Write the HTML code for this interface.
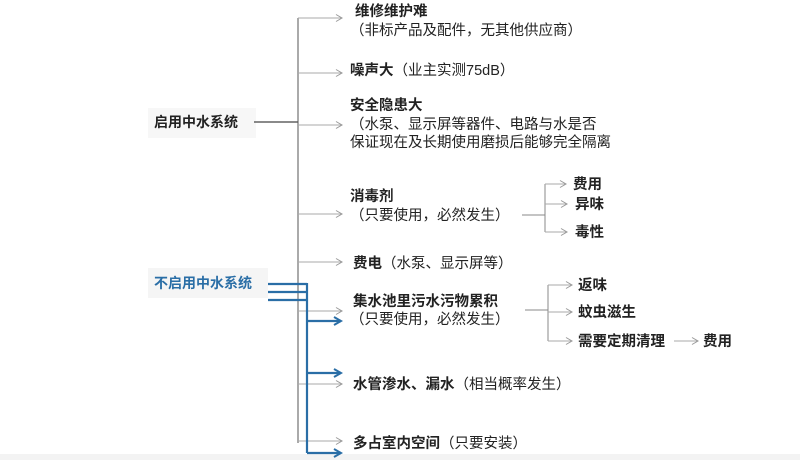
<!DOCTYPE html>
<html><head><meta charset="utf-8"><style>
html,body{margin:0;padding:0;background:#fff;}
svg{display:block;}
text{font-family:"Liberation Sans","Noto Sans CJK SC",sans-serif;font-size:14.5px;fill:#222;}
.b{font-weight:bold;}
.bl{fill:#2a6ea6;font-weight:bold;}
</style></head><body>
<svg width="800" height="460" viewBox="0 0 800 460">
<defs>
<marker id="g" markerWidth="8" markerHeight="8" refX="7" refY="4" orient="auto" markerUnits="userSpaceOnUse"><path d="M1,0.5 L7,4 L1,7.5" fill="none" stroke="#999" stroke-width="1"/></marker>
<marker id="u" markerWidth="10" markerHeight="10" refX="8" refY="5" orient="auto" markerUnits="userSpaceOnUse"><path d="M1,1 L8,5 L1,9" fill="none" stroke="#2a6ea6" stroke-width="2"/></marker>
</defs>
<rect x="0" y="454" width="800" height="6" fill="#f3f3f3"/>
<rect x="148" y="108" width="108" height="30" fill="#f7f7f7"/>
<rect x="148" y="268" width="120" height="30" fill="#f5f5f5"/>
<text x="154" y="127" class="b" style="font-size:14px">启用中水系统</text>
<text x="154" y="288" class="bl" style="font-size:14px">不启用中水系统</text>
<line x1="254" y1="122" x2="298" y2="122" stroke="#444" stroke-width="1.2"/>
<line x1="298" y1="18" x2="298" y2="443" stroke="#555" stroke-width="1"/>
<g stroke="#aaa" stroke-width="1" marker-end="url(#g)">
<line x1="298" y1="18" x2="342" y2="18"/>
<line x1="298" y1="73" x2="342" y2="73"/>
<line x1="298" y1="125" x2="342" y2="125"/>
<line x1="298" y1="214" x2="342" y2="214"/>
<line x1="298" y1="262" x2="342" y2="262"/>
<line x1="298" y1="311" x2="342" y2="311"/>
<line x1="298" y1="384" x2="342" y2="384"/>
<line x1="298" y1="441" x2="342" y2="441"/>
</g>
<g stroke="#2a6ea6" stroke-width="2.2" fill="none">
<line x1="268" y1="284" x2="307" y2="284"/>
<line x1="268" y1="292" x2="307" y2="292"/>
<line x1="268" y1="300" x2="307" y2="300"/>
<line x1="307" y1="283" x2="307" y2="453"/>
<line x1="307" y1="321" x2="341" y2="321" marker-end="url(#u)"/>
<line x1="307" y1="373" x2="341" y2="373" marker-end="url(#u)"/>
<line x1="307" y1="453" x2="341" y2="453" marker-end="url(#u)"/>
</g>
<text x="355" y="16" class="b">维修维护难</text>
<text x="350" y="35">（非标产品及配件，无其他供应商）</text>
<text x="350" y="75"><tspan class="b">噪声大</tspan>（业主实测75dB）</text>
<text x="350" y="110" class="b">安全隐患大</text>
<text x="350" y="129">（水泵、显示屏等器件、电路与水是否</text>
<text x="350" y="147">保证现在及长期使用磨损后能够完全隔离</text>
<text x="350" y="201" class="b">消毒剂</text>
<text x="350" y="220">（只要使用，必然发生）</text>
<text x="353" y="268"><tspan class="b">费电</tspan>（水泵、显示屏等）</text>
<text x="353" y="306" class="b">集水池里污水污物累积</text>
<text x="350" y="324">（只要使用，必然发生）</text>
<text x="353" y="389"><tspan class="b">水管渗水、漏水</tspan>（相当概率发生）</text>
<text x="353" y="448"><tspan class="b">多占室内空间</tspan>（只要安装）</text>
<g stroke="#888" stroke-width="1" fill="none">
<line x1="522" y1="215" x2="545" y2="215"/>
<line x1="545" y1="184" x2="545" y2="232"/>
<line x1="525" y1="310" x2="548" y2="310"/>
<line x1="548" y1="285" x2="548" y2="341"/>
</g>
<g stroke="#aaa" stroke-width="1" marker-end="url(#g)">
<line x1="545" y1="184" x2="566" y2="184"/>
<line x1="545" y1="204" x2="567" y2="204"/>
<line x1="545" y1="232" x2="567" y2="232"/>
<line x1="548" y1="285" x2="572" y2="285"/>
<line x1="548" y1="312" x2="572" y2="312"/>
<line x1="548" y1="341" x2="572" y2="341"/>
<line x1="674" y1="341" x2="698" y2="341"/>
</g>
<text x="573" y="189" class="b">费用</text>
<text x="575" y="209" class="b">异味</text>
<text x="575" y="237" class="b">毒性</text>
<text x="578" y="290" class="b">返味</text>
<text x="578" y="317" class="b">蚊虫滋生</text>
<text x="578" y="346" class="b">需要定期清理</text>
<text x="703" y="346" class="b">费用</text>
</svg>
</body></html>
